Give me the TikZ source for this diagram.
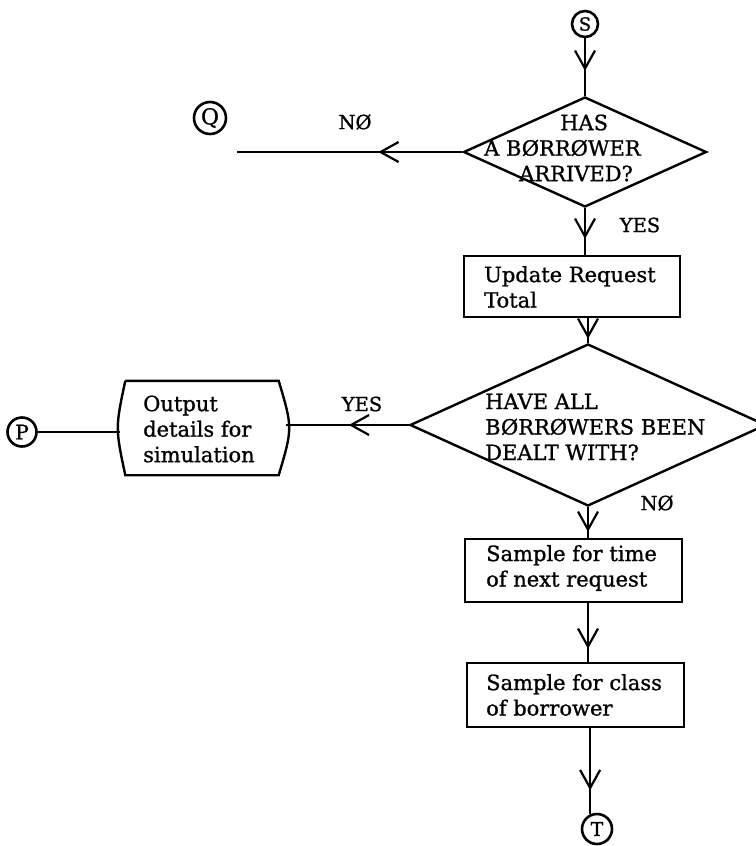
\documentclass[tikz,border=0pt]{standalone}
\usepackage{fontspec}
\setmainfont{DejaVu Serif}[FakeBold=1]
\usetikzlibrary{shapes.geometric,arrows.meta,decorations.markings,calc}
\tikzset{
  txt/.style={inner sep=0pt, align=left, font=\fontsize{21}{25.5}\selectfont},
  lbl/.style={inner sep=0pt, font=\fontsize{19.5}{22}\selectfont},
  conn/.style={draw, circle, line width=2.6pt, inner sep=0pt, minimum size=#1},
  decision/.style={draw, diamond, inner sep=0pt, line width=2.4pt},
  process/.style={draw, rectangle, inner sep=0pt, line width=2.4pt},
  flow/.style={line width=2.4pt, postaction={decorate},
    decoration={markings, mark=at position #1 with
      {\arrow{Straight Barb[length=18pt,width=20pt,line width=2.2pt]}}}},
}
\begin{document}
\begin{tikzpicture}[x=1pt,y=-1pt]
\useasboundingbox (0,0) rectangle (755,846);

% connectors (entry / exit points)
\node[conn=26, font=\fontsize{18}{18}\selectfont] (S) at (585,24) {S};
\node[conn=32, font=\fontsize{22}{22}\selectfont] (Q) at (210,118) {Q};
\node[conn=29, font=\fontsize{20}{20}\selectfont] (P) at (22,432) {P};
\node[conn=30, font=\fontsize{19}{19}\selectfont] (T) at (597,829) {T};

% first decision
\node[decision, minimum width=243, minimum height=110] (d1) at (585,152) {};
\node[txt, anchor=west] (d1t) at (484,148)
  {\hspace*{76pt}HAS\\A BØRRØWER\\\hspace*{35pt}ARRIVED?};

% update box
\node[process, minimum width=216, minimum height=61] (b1) at (572,286.5) {};
\node[txt, anchor=west] (b1t) at (484,287) {Update Request\\Total};

% second decision
\node[decision, minimum width=356, minimum height=162] (d2) at (588,425) {};
\node[txt, anchor=west] (d2t) at (485,427) {HAVE ALL\\BØRRØWERS BEEN\\DEALT WITH?};

% sampling boxes
\node[process, minimum width=217, minimum height=63] (b2) at (573.5,570.5) {};
\node[txt, anchor=west] (b2t) at (486,568) {Sample for time\\of next request};
\node[process, minimum width=217, minimum height=64] (b3) at (575.5,695) {};
\node[txt, anchor=west] (b3t) at (486,695) {Sample for class\\of borrower};

% output box with bowed sides
\node[minimum width=153, minimum height=94, inner sep=0pt] (out) at (202,428) {};
\draw[line width=2.4pt] (out.north west) -- (out.north east)
  .. controls ($(out.east)+(14,0)$) .. (out.south east)
  -- (out.south west)
  .. controls ($(out.west)+(-10,0)$) .. (out.north west);
\coordinate (outR) at ($(out.east)+(7,0)$);
\coordinate (outL) at ($(out.west)+(-5,0)$);
\node[txt, anchor=west] (outt) at (143,429) {Output\\details for\\simulation};

% branch labels
\node[lbl] (no1) at (355,122) {NØ};
\node[lbl] (yes1) at (640,225) {YES};
\node[lbl] (yes2) at (362,404) {YES};
\node[lbl] (no2) at (657,503) {NØ};

% flow lines
\coordinate (qend) at (237,152);
\draw[flow=-25pt] (S) -- (d1);
\draw[flow=84pt] (d1.west) -- (qend);
\draw[flow=-16pt] (d1.south) -- (d1.south |- b1.north);
\draw[flow=-4pt] (b1.south -| d2.north) -- (d2.north);
\draw[flow=60pt] (d2.west) -- (d2.west -| outR);
\draw[line width=2.4pt] (P) -- (P -| outL);
\draw[flow=-6pt] (d2.south) -- (d2.south |- b2.north);
\draw[flow=-13pt] (b2.south -| d2.south) -- (b3.north -| d2.south);
\draw[flow=-24pt] (b3.south -| T.115) -- (T.115);
\end{tikzpicture}
\end{document}
